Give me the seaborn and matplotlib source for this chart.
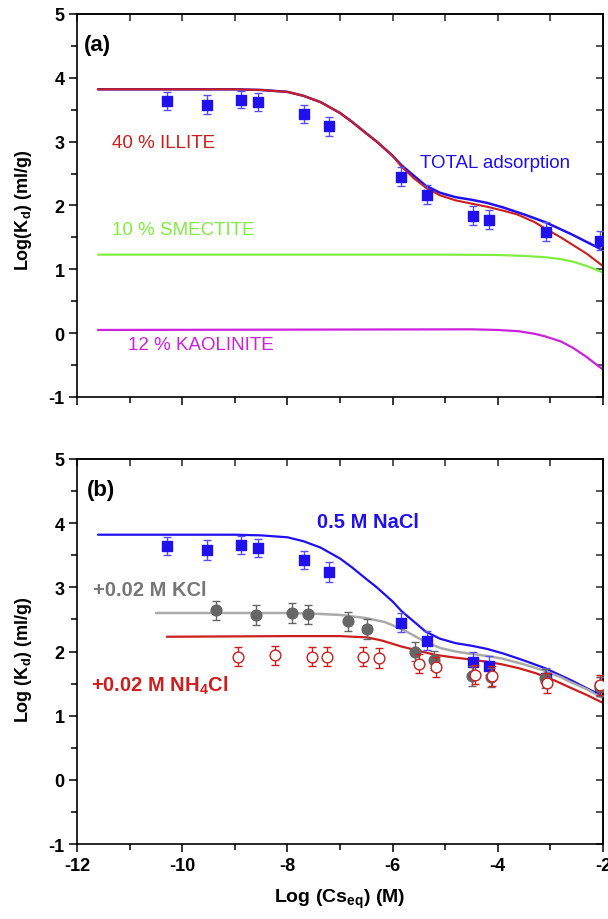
import matplotlib
matplotlib.use("Agg")
import matplotlib.pyplot as plt
from matplotlib.ticker import MultipleLocator
import seaborn as sns

# ---------------- data ----------------
# measured Cs sorption (0.5 M NaCl background)
log_cs_nacl = [-10.28, -9.52, -8.89, -8.56, -7.69, -7.21, -5.84, -5.35, -4.48, -4.16, -3.09, -2.05]
log_kd_nacl = [3.64, 3.58, 3.66, 3.62, 3.43, 3.24, 2.45, 2.17, 1.84, 1.78, 1.59, 1.45]
err_nacl = [0.14, 0.15, 0.14, 0.14, 0.14, 0.15, 0.15, 0.15, 0.15, 0.15, 0.15, 0.15]

# +0.02 M KCl
log_cs_kcl = [-9.36, -8.60, -7.92, -7.61, -6.85, -6.48, -5.58, -5.21, -4.49, -4.12, -3.10, -2.05]
log_kd_kcl = [2.64, 2.57, 2.60, 2.58, 2.47, 2.35, 2.00, 1.86, 1.62, 1.60, 1.58, 1.45]
err_kcl = [0.15, 0.15, 0.15, 0.15, 0.15, 0.15, 0.15, 0.15, 0.15, 0.15, 0.15, 0.15]

# +0.02 M NH4Cl
log_cs_nh4 = [-8.94, -8.24, -7.53, -7.25, -6.56, -6.26, -5.49, -5.17, -4.43, -4.11, -3.07, -2.06]
log_kd_nh4 = [1.92, 1.94, 1.92, 1.92, 1.92, 1.90, 1.81, 1.76, 1.64, 1.62, 1.51, 1.48]
err_nh4 = [0.15, 0.15, 0.15, 0.15, 0.15, 0.15, 0.15, 0.15, 0.15, 0.15, 0.15, 0.15]

# model: total adsorption (also the 0.5 M NaCl model)
total_x = [-11.6, -10.0, -9.0, -8.5, -8.0, -7.7, -7.37, -7.0, -6.77, -6.5, -6.3, -6.0,
           -5.83, -5.6, -5.37, -5.1, -4.8, -4.5, -4.2, -3.9, -3.5, -3.1, -2.6, -2.0]
total_y = [3.82, 3.82, 3.82, 3.81, 3.78, 3.72, 3.62, 3.45, 3.31, 3.13, 3.00, 2.78,
           2.63, 2.47, 2.31, 2.20, 2.13, 2.09, 2.04, 1.97, 1.86, 1.74, 1.55, 1.30]

# model: illite contribution
illite_x = [-11.6, -10.0, -9.0, -8.5, -8.0, -7.7, -7.37, -7.0, -6.77, -6.5, -6.3, -6.0,
            -5.83, -5.6, -5.37, -5.1, -4.8, -4.5, -4.2, -3.9, -3.63, -3.3, -3.1, -2.8,
            -2.57, -2.3, -2.0]
illite_y = [3.82, 3.82, 3.82, 3.81, 3.78, 3.72, 3.62, 3.45, 3.31, 3.13, 3.00, 2.78,
            2.61, 2.43, 2.28, 2.16, 2.08, 2.03, 1.98, 1.92, 1.86, 1.74, 1.64, 1.50,
            1.38, 1.24, 1.05]

# model: smectite contribution
smectite_x = [-11.6, -5.0, -4.0, -3.5, -3.1, -2.8, -2.57, -2.3, -2.0]
smectite_y = [1.23, 1.23, 1.225, 1.21, 1.19, 1.16, 1.12, 1.05, 0.95]

# model: kaolinite contribution
kaolinite_x = [-11.6, -4.5, -4.0, -3.6, -3.3, -3.1, -2.8, -2.57, -2.3, -2.0]
kaolinite_y = [0.05, 0.06, 0.05, 0.03, -0.01, -0.05, -0.13, -0.23, -0.38, -0.57]

# model: +0.02 M KCl
kcl_x = [-10.5, -8.0, -7.5, -7.0, -6.79, -6.5, -6.15, -5.8, -5.51, -5.3, -5.07, -4.8,
         -4.56, -4.2, -3.92, -3.5, -3.15, -2.8, -2.63, -2.3, -2.0]
kcl_y = [2.60, 2.60, 2.59, 2.57, 2.55, 2.52, 2.46, 2.34, 2.21, 2.12, 2.05, 2.00,
         1.97, 1.93, 1.89, 1.80, 1.71, 1.60, 1.53, 1.41, 1.27]

# model: +0.02 M NH4Cl
nh4_x = [-10.29, -8.0, -7.0, -6.48, -6.2, -5.84, -5.5, -5.2, -4.86, -4.56, -4.2, -3.92,
         -3.6, -3.27, -2.95, -2.63, -2.3, -2.0]
nh4_y = [2.23, 2.24, 2.24, 2.22, 2.17, 2.08, 2.01, 1.95, 1.91, 1.88, 1.84, 1.80,
         1.74, 1.66, 1.56, 1.44, 1.32, 1.20]

x_ticks = [-12, -10, -8, -6, -4, -2]
y_ticks = [-1, 0, 1, 2, 3, 4, 5]

# ---------------- style ----------------
BLUE = "#2010ee"
BLUE_ERR = "#5a50f0"
RED = "#cc1e1e"
GREEN = "#80ee40"
MAGENTA = "#cc22dd"
GREY_PT = "#666666"
GREY_LN = "#aaaaaa"
GREY_TXT = "#777777"

sns.set_theme(style="ticks")
plt.rcParams["font.family"] = ["Liberation Sans", "DejaVu Sans"]
plt.rcParams["axes.unicode_minus"] = False
plt.rcParams["mathtext.fontset"] = "custom"
plt.rcParams["mathtext.rm"] = "Liberation Sans:bold"
plt.rcParams["mathtext.bf"] = "Liberation Sans:bold"
plt.rcParams["mathtext.it"] = "Liberation Sans:bold"

fig = plt.figure(figsize=(6.08, 9.2), dpi=100)
ax_a = fig.add_axes([0.1266, 0.5674, 0.8651, 0.4163])
ax_b = fig.add_axes([0.1266, 0.0815, 0.8651, 0.4185])


def style_axes(ax, show_xlabels):
    ax.set_xlim(-12, -2)
    ax.set_ylim(-1, 5)
    ax.set_xticks(x_ticks)
    ax.set_yticks(y_ticks)
    ax.xaxis.set_minor_locator(MultipleLocator(1))
    ax.yaxis.set_minor_locator(MultipleLocator(0.5))
    for s in ax.spines.values():
        s.set_visible(True)
        s.set_linewidth(1.2)
        s.set_color("black")
    ax.tick_params(which="major", direction="out", length=6, width=1.1,
                   labelsize=13, pad=3, colors="black")
    ax.tick_params(which="minor", direction="out", length=4, width=1.1, colors="black")
    for lab in ax.get_xticklabels() + ax.get_yticklabels():
        lab.set_fontweight("bold")
    if not show_xlabels:
        ax.tick_params(axis="x", labelbottom=False)
    # inward mirror ticks on top and right
    top = ax.secondary_xaxis("top")
    top.set_xticks(x_ticks)
    top.xaxis.set_minor_locator(MultipleLocator(1))
    top.tick_params(which="both", direction="in", length=5, width=1.1, labeltop=False)
    right = ax.secondary_yaxis("right")
    right.set_yticks(y_ticks)
    right.yaxis.set_minor_locator(MultipleLocator(0.5))
    right.tick_params(which="both", direction="in", length=5, width=1.1, labelright=False)


def draw_points(ax, x, y, err, marker, face, edge, ecolor, size, z):
    ax.errorbar(x, y, yerr=err, fmt="none", ecolor=ecolor, elinewidth=1.0,
                capsize=3, capthick=1.0, zorder=z)
    sns.scatterplot(x=x, y=y, ax=ax, marker=marker, s=size, color=face,
                    edgecolor=edge, linewidth=1.0, zorder=z + 0.5, legend=False)


# ---------------- panel (a) ----------------
sns.lineplot(x=smectite_x, y=smectite_y, ax=ax_a, color=GREEN, lw=1.6, sort=False, estimator=None)
sns.lineplot(x=kaolinite_x, y=kaolinite_y, ax=ax_a, color=MAGENTA, lw=1.6, sort=False, estimator=None)
sns.lineplot(x=total_x, y=total_y, ax=ax_a, color=BLUE, lw=1.8, sort=False, estimator=None)
sns.lineplot(x=illite_x, y=illite_y, ax=ax_a, color=RED, lw=1.5, sort=False, estimator=None)
draw_points(ax_a, log_cs_nacl, log_kd_nacl, err_nacl, "s", BLUE, BLUE, BLUE_ERR, 55, 4)

ax_a.text(-11.33, 2.99, "40 % ILLITE", color=RED, fontsize=13.5, va="center", ha="left")
ax_a.text(-5.48, 2.68, "TOTAL adsorption", color=BLUE, fontsize=13.5, va="center", ha="left")
ax_a.text(-11.33, 1.62, "10 % SMECTITE", color=GREEN, fontsize=13.5, va="center", ha="left")
ax_a.text(-11.03, -0.17, "12 % KAOLINITE", color=MAGENTA, fontsize=13.5, va="center", ha="left")
ax_a.text(-11.87, 4.52, "(a)", color="black", fontsize=16, fontweight="bold", va="center", ha="left")

style_axes(ax_a, show_xlabels=False)
ax_a.set_xlabel("")
ax_a.set_ylabel(r"Log(K$_{\mathrm{d}}$) (ml/g)", fontsize=13, fontweight="bold", color="black")
ax_a.yaxis.set_label_coords(-0.082, 0.49)

# ---------------- panel (b) ----------------
sns.lineplot(x=total_x, y=total_y, ax=ax_b, color=BLUE, lw=1.6, sort=False, estimator=None)
sns.lineplot(x=kcl_x, y=kcl_y, ax=ax_b, color=GREY_LN, lw=1.8, sort=False, estimator=None)
sns.lineplot(x=nh4_x, y=nh4_y, ax=ax_b, color=RED, lw=1.6, sort=False, estimator=None)
draw_points(ax_b, log_cs_nacl, log_kd_nacl, err_nacl, "s", BLUE, BLUE, BLUE_ERR, 55, 4)
draw_points(ax_b, log_cs_kcl, log_kd_kcl, err_kcl, "o", GREY_PT, GREY_PT, GREY_PT, 60, 5)
draw_points(ax_b, log_cs_nh4, log_kd_nh4, err_nh4, "o", "white", RED, RED, 60, 6)

ax_b.text(-7.44, 4.02, "0.5 M NaCl", color=BLUE, fontsize=14.5, fontweight="bold",
          va="center", ha="left")
ax_b.text(-11.7, 2.96, "+0.02 M KCl", color=GREY_TXT, fontsize=14.5, fontweight="bold",
          va="center", ha="left")
ax_b.text(-11.74, 1.48, r"+0.02 M NH$_{\mathrm{4}}$Cl", color=RED, fontsize=14.5,
          fontweight="bold", va="center", ha="left")
ax_b.text(-11.82, 4.52, "(b)", color="black", fontsize=16, fontweight="bold", va="center", ha="left")

style_axes(ax_b, show_xlabels=True)
ax_b.set_ylabel(r"Log (K$_{\mathrm{d}}$) (ml/g)", fontsize=13, fontweight="bold", color="black")
ax_b.yaxis.set_label_coords(-0.082, 0.48)
ax_b.set_xlabel(r"Log (Cs$_{\mathrm{eq}}$) (M)", fontsize=14, fontweight="bold", color="black")
ax_b.xaxis.set_label_coords(0.5, -0.11)

fig.savefig("out.png", dpi=100, facecolor="white")
